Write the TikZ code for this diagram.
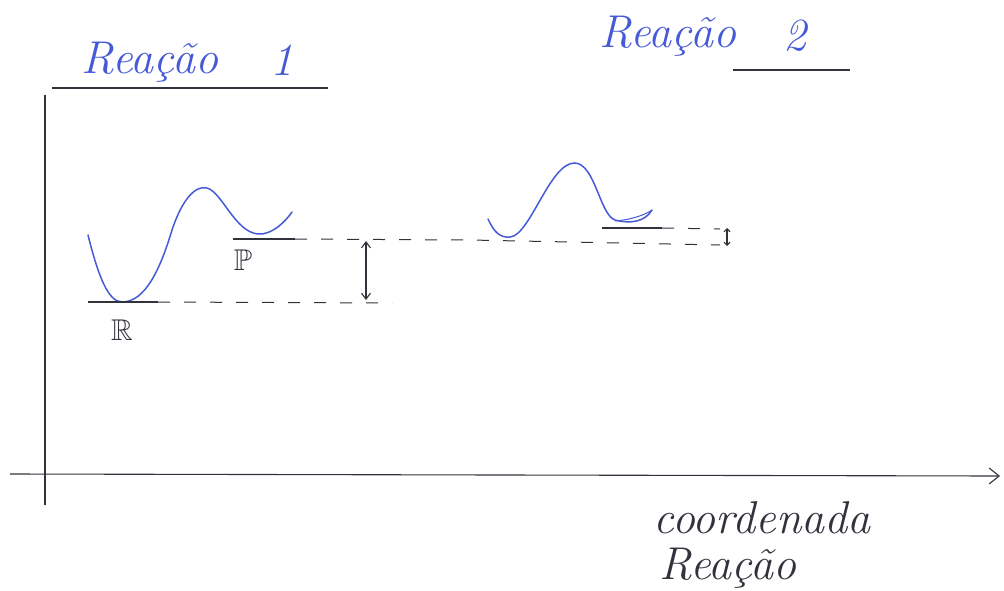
\documentclass[tikz,border=0pt]{standalone}
\usepackage{amssymb}
\usetikzlibrary{arrows.meta}
\definecolor{pen}{RGB}{70,90,215}
\definecolor{ink}{RGB}{50,50,60}
\begin{document}
\begin{tikzpicture}[x=1pt,y=-1pt,
  inkline/.style={ink,line width=1.1pt},
  level/.style={ink,line width=1.3pt},
  dashlvl/.style={ink,line width=1pt,dash pattern=on 12pt off 14pt},
  curve/.style={pen,line width=1.5pt,line cap=round},
  hand/.style={pen,font=\itshape\fontsize{46}{48}\selectfont},
  handk/.style={ink,font=\itshape\fontsize{46}{48}\selectfont}]
\useasboundingbox (0,0) rectangle (1004,590);
% titles
\node[hand] (t1) at (150,62) {Reação};
\node[hand] (n1) at (282,60) {1};
\draw[inkline] (52,88) -- (328,88);
\node[hand] (t2) at (668,36) {Reação};
\node[hand] (n2) at (795,36) {2};
\draw[inkline] (733,70) -- (850,70);
% axes
\coordinate (yb) at (45,505);
\coordinate (yt) at (45,95);
\coordinate (xl) at (10,474);
\coordinate (xr) at (1000,476);
\draw[inkline] (yb) -- (yt);
\draw[inkline,-{Straight Barb[length=10pt,width=16pt]}] (xl) -- (xr);
% reaction 1 curve
\draw[curve] (88,235) .. controls (98,275) and (108,302) .. (122,302)
  .. controls (145,302) and (160,270) .. (172,230)
  .. controls (182,200) and (195,185) .. (207,188)
  .. controls (222,192) and (235,232) .. (258,234)
  .. controls (272,235) and (285,222) .. (292,212);
% reaction 1 levels
\coordinate (r1) at (88,302);
\coordinate (r2) at (158,302);
\coordinate (r3) at (392,303);
\draw[level] (r1) -- (r2);
\draw[dashlvl] (r2) -- (r3);
\coordinate (p1) at (233,239);
\coordinate (p2) at (295,239);
\coordinate (p3) at (470,240);
\coordinate (p4) at (720,245);
\draw[level] (p1) -- (p2);
\draw[dashlvl] (p2) -- (p3) -- (p4);
\coordinate (a1t) at (366,241);
\coordinate (a1b) at (366,300);
\draw[inkline,{Straight Barb[length=6pt,width=9pt]}-{Straight Barb[length=6pt,width=9pt]}] (a1t) -- (a1b);
\node[ink,font=\fontsize{30}{32}\selectfont] (R) at (122,330) {$\mathbb{R}$};
\node[ink,font=\fontsize{30}{32}\selectfont] (P) at (243,260) {$\mathbb{P}$};
% reaction 2 curve
\draw[curve] (488,219) .. controls (494,232) and (500,238) .. (510,237)
  .. controls (530,236) and (550,162) .. (575,163)
  .. controls (595,164) and (600,215) .. (615,220)
  .. controls (630,224) and (645,222) .. (652,210);
\draw[pen,line width=1pt] (615,221) .. controls (630,220) and (645,215) .. (652,210);
\coordinate (q1) at (602,228);
\coordinate (q2) at (662,228);
\coordinate (q3) at (720,229);
\draw[level] (q1) -- (q2);
\draw[dashlvl] (q2) -- (q3);
\coordinate (a2t) at (727,228);
\coordinate (a2b) at (727,246);
\draw[inkline,{Straight Barb[length=3pt,width=6pt]}-{Straight Barb[length=3pt,width=6pt]}] (a2t) -- (a2b);
% x label
\node[handk] (c1) at (762,518) {coordenada};
\node[handk] (c2) at (728,568) {Reação};
\end{tikzpicture}
\end{document}
